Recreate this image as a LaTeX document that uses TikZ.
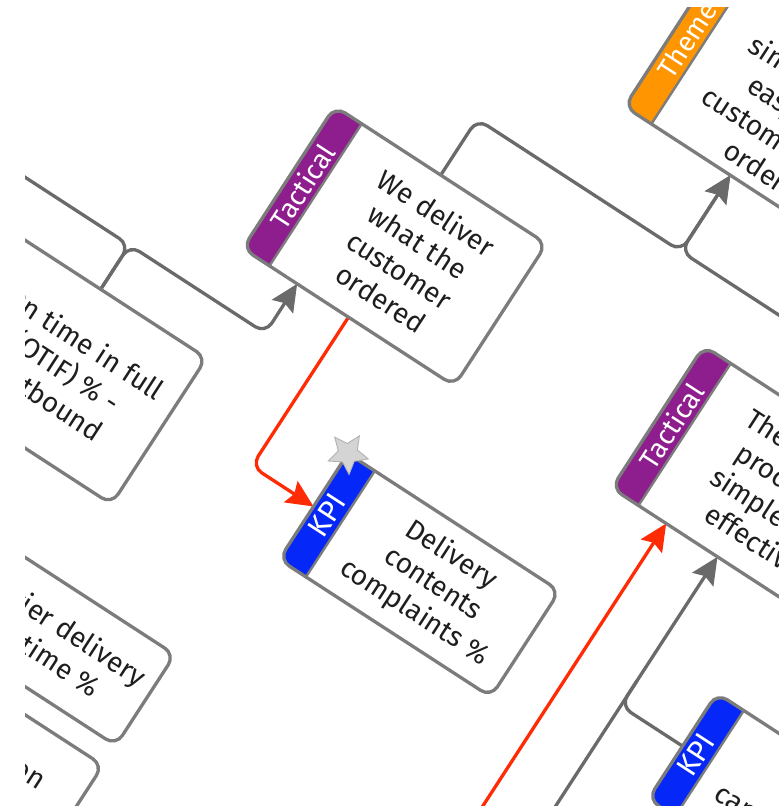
\documentclass[tikz,border=0pt]{standalone}
\usepackage{fontspec}
\setmainfont{Fira Sans}
\usetikzlibrary{arrows.meta,calc,shapes.geometric}
\definecolor{boxgray}{HTML}{7C7C7C}
\definecolor{linegray}{HTML}{6A6A6A}
\definecolor{tacpurple}{HTML}{8E1E8E}
\definecolor{kpiblue}{HTML}{0528F8}
\definecolor{themeorange}{HTML}{FF9500}
\definecolor{kpired}{HTML}{FF2B05}
\definecolor{txtc}{HTML}{1E1E1E}
\definecolor{stargray}{HTML}{D4D4D4}
\tikzset{
 boxnode/.style={fill=white, rounded corners=12pt, inner sep=0pt, minimum width=252pt},
 border/.style={draw=boxgray, line width=3.3pt, rounded corners=12pt},
 divider/.style={draw=boxgray, line width=2.4pt},
 boxtext/.style={text=txtc, align=center, font=\fontsize{28}{34}\selectfont, inner sep=0pt},
 tabtext/.style={text=white, font=\fontsize{27.5}{30}\selectfont, rotate=90, inner sep=0pt},
 conn/.style={draw=linegray, line width=3.3pt, rounded corners=12pt},
 redconn/.style={draw=kpired, line width=3.3pt, rounded corners=12pt},
 arrowend/.style={-{Stealth[length=27pt,width=25pt,inset=4pt]}},
}
\newcommand\mytab[5]{%
 \coordinate (#1-tn) at ($(#1.north west)!32pt!(#1.north east)$);
 \coordinate (#1-ts) at ($(#1.south west)!32pt!(#1.south east)$);
 \begin{scope}
  \clip (#1.north west) -- (#1-tn) -- (#1-ts) -- (#1.south west) -- cycle;
  \fill[#2, rounded corners=12pt] (#1.north west) -- (#1.north east) -- (#1.south east) -- (#1.south west) -- cycle;
 \end{scope}
 \node[tabtext, #5] (#4) at ($(#1.north west)!0.5!(#1-ts)$) {#3};
 \draw[divider] (#1-tn) -- (#1-ts);
}
\newcommand\myborder[1]{%
 \draw[border] (#1.north west) -- (#1.north east) -- (#1.south east) -- (#1.south west) -- cycle;
}
\begin{document}
\begin{tikzpicture}[x=1pt,y=1pt]
\useasboundingbox (0,0) rectangle (779,-806);
\fill[white] (0,0) rectangle (779,-806);
\clip (25,-7) rectangle (779,-806);
\begin{scope}[rotate=-33, transform shape]
 % boxes
 \node[boxnode, minimum height=180pt] (th) at (708,341) {};
 \node[boxnode, minimum height=169pt] (wd) at (465,8.5) {};
 \node[boxnode, minimum height=169pt] (tp) at (905,8.5) {};
 \node[boxnode, minimum height=174pt] (ot) at (242,-275) {};
 \node[boxnode, minimum height=126pt] (kd) at (665,-254) {};
 \node[boxnode, minimum height=126pt] (kc) at (1105,-254) {};
 \node[boxnode, minimum height=108pt] (cd) at (377,-508) {};
 \node[boxnode, minimum height=114pt] (cn) at (377,-643) {};
 % connector points
 \coordinate (j1) at (465,160);
 \coordinate (j2) at (708,160);
 \coordinate (j3) at (905,160);
 \coordinate (o1) at (242,-135);
 \coordinate (o2) at (404,-135);
 \coordinate (o3) at (-300,-135);
 \coordinate (wdin) at ($(wd.south west)!65pt!(wd.south east)$);
 \coordinate (r1) at (465,-254);
 \coordinate (g1) at (905,-254);
 \coordinate (g2) at (905,-224);
 \coordinate (g0) at (905,-760);
 \coordinate (r0) at (844,-760);
 \coordinate (tpin) at ($(tp.south west)!65pt!(tp.south east)$);
 % connectors
 \draw[conn, arrowend] (wd.north) -- (j1) -- (j2) -- (th.south);
 \draw[conn, arrowend] (tp.north) -- (j3) -- (j2) -- (th.south);
 \draw[conn, arrowend] (ot.north) -- (o1) -- (o2) -- (wdin);
 \draw[conn] (ot.north) -- (o1) -- (o3);
 \draw[redconn, arrowend] (wd.south) -- (r1) -- (kd.west);
 \draw[conn, arrowend] (kc.west) -- (g1) -- (tp.south);
 \draw[conn] (g0) -- (g2);
 \draw[redconn, arrowend] (r0) -- (tpin);
 % tabs and borders
 \mytab{th}{themeorange}{Theme}{thtab}{}
 \mytab{wd}{tacpurple}{Tactical}{wdtab}{}
 \mytab{tp}{tacpurple}{Tactical}{tptab}{}
 \mytab{kd}{kpiblue}{KPI}{kdtab}{font=\fontsize{30}{32}\selectfont}
 \mytab{kc}{kpiblue}{KPI}{kctab}{font=\fontsize{30}{32}\selectfont}
 \myborder{th}\myborder{wd}\myborder{tp}\myborder{ot}
 \myborder{kd}\myborder{kc}\myborder{cd}\myborder{cn}
 \node[star, star points=5, star point ratio=2.1, minimum size=42pt, inner sep=0pt,
       fill=stargray, draw=gray!60, line width=0.9pt] (kdstar) at (kd.north west) {};
 % texts
 \node[boxtext] (tht) at (724,341) {It is\\simple and\\easy for\\customers to\\order};
 \node[boxtext] (wdt) at (482,8.5) {We deliver\\what the\\customer\\ordered};
 \node[boxtext] (tpt) at (927,8.5) {The returns\\process is\\simple and\\effective};
 \node[boxtext] (ott) at (258,-275) {On time in full\\(OTIF) \% -\\outbound};
 \node[boxtext] (kdt) at (681,-254) {Delivery\\contents\\complaints \%};
 \node[boxtext] (kct) at (1132,-254) {Order\\cancellations \%};
 \node[boxtext] (cdt) at (393,-508) {Carrier delivery\\on time \%};
 \node[boxtext] (cnt) at (399,-631) {Collection};
\end{scope}
\end{tikzpicture}
\end{document}
